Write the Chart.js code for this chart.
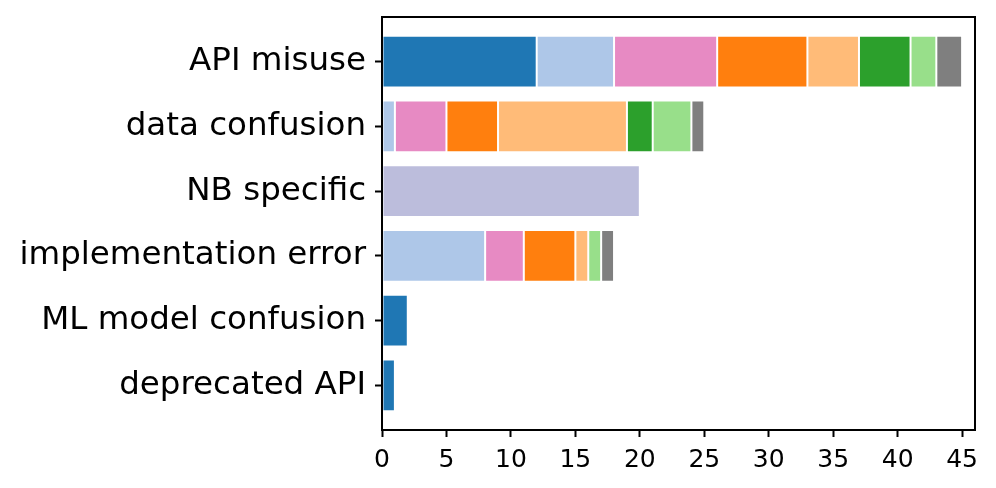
<!DOCTYPE html>
<html lang="en">
<head>
  <meta charset="UTF-8">
  <title>Bug categories</title>
  <script src="https://cdn.jsdelivr.net/npm/chart.js@4.4.1/dist/chart.umd.min.js"></script>
  <style>
    body { margin: 0; background: #fff; }
    #chart { display: block; }
  </style>
</head>
<body>
  <canvas id="chart" width="996" height="488"></canvas>
  <script>
    // categories, top to bottom
    const categories = ['API misuse', 'data confusion', 'NB specific', 'implementation error', 'ML model confusion', 'deprecated API'];

    // one array per stacked segment colour, values per category
    const seriesBlue       = [12, 0, 0, 0, 2, 1];
    const seriesLightBlue  = [6, 1, 0, 8, 0, 0];
    const seriesPink       = [8, 4, 0, 3, 0, 0];
    const seriesOrange     = [7, 4, 0, 4, 0, 0];
    const seriesLightOrange = [4, 10, 0, 1, 0, 0];
    const seriesGreen      = [4, 2, 0, 0, 0, 0];
    const seriesLightGreen = [2, 3, 0, 1, 0, 0];
    const seriesGray       = [2, 1, 0, 1, 0, 0];
    const seriesPurple     = [0, 0, 20, 0, 0, 0];

    const xTicks = [0, 5, 10, 15, 20, 25, 30, 35, 40, 45];

    const series = [
      { values: seriesBlue, color: '#1f77b4' },
      { values: seriesLightBlue, color: '#aec7e8' },
      { values: seriesPink, color: '#e78ac3' },
      { values: seriesOrange, color: '#ff7f0e' },
      { values: seriesLightOrange, color: '#ffbb78' },
      { values: seriesGreen, color: '#2ca02c' },
      { values: seriesLightGreen, color: '#98df8a' },
      { values: seriesGray, color: '#7f7f7f' },
      { values: seriesPurple, color: '#bcbddc' }
    ];

    const datasets = series.map(s => ({
      data: s.values.map((v, i) => ({ x: v, y: i })).filter(p => p.x > 0),
      backgroundColor: s.color,
      borderColor: 'rgba(255,255,255,0.15)',
      borderWidth: 1,
      borderSkipped: false,
      barPercentage: 0.8,
      categoryPercentage: 1
    }));

    // full box around the plot, like matplotlib spines
    const frame = {
      id: 'frame',
      afterDraw(chart) {
        const { ctx, chartArea: a } = chart;
        ctx.save();
        ctx.strokeStyle = '#000';
        ctx.lineWidth = 2;
        ctx.strokeRect(a.left, a.top, a.right - a.left, a.bottom - a.top);
        ctx.restore();
      }
    };

    new Chart(document.getElementById('chart'), {
      type: 'bar',
      data: { datasets: datasets },
      options: {
        responsive: false,
        animation: false,
        indexAxis: 'y',
        layout: { padding: { top: 17, right: 21, left: 0, bottom: 0 } },
        plugins: { legend: { display: false }, tooltip: { enabled: false } },
        scales: {
          x: {
            type: 'linear',
            stacked: true,
            min: 0,
            max: 46,
            offset: false,
            afterBuildTicks: scale => { scale.ticks = xTicks.map(v => ({ value: v })); },
            afterFit: scale => { scale.height = 58; scale.paddingLeft = 0; scale.paddingRight = 0; },
            ticks: { color: '#000', font: { family: 'DejaVu Sans', size: 25 }, padding: 8, maxRotation: 0 },
            grid: { offset: false, drawOnChartArea: false, drawTicks: true, tickLength: 7, tickWidth: 2, tickColor: '#000' },
            border: { display: true, color: '#000', width: 2 }
          },
          y: {
            type: 'linear',
            stacked: true,
            reverse: true,
            min: -0.69,
            max: 5.69,
            offset: false,
            afterBuildTicks: scale => { scale.ticks = categories.map((c, i) => ({ value: i })); },
            afterFit: scale => { scale.width = 382; scale.paddingTop = 0; scale.paddingBottom = 0; },
            ticks: {
              color: '#000',
              font: { family: 'DejaVu Sans', size: 32.5 },
              padding: 9,
              autoSkip: false,
              callback: v => categories[v]
            },
            grid: { offset: false, drawOnChartArea: false, drawTicks: true, tickLength: 7, tickWidth: 2, tickColor: '#000' },
            border: { display: true, color: '#000', width: 2 }
          }
        }
      },
      plugins: [frame]
    });
  </script>
</body>
</html>
